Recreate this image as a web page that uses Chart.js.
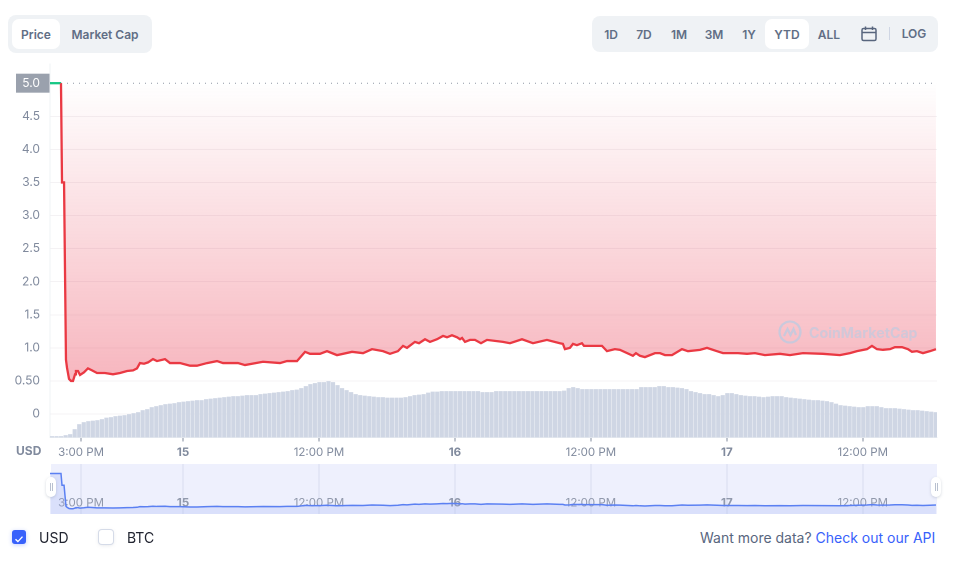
<!DOCTYPE html>
<html>
<head>
<meta charset="utf-8">
<title>Price chart</title>
<script src="https://cdn.jsdelivr.net/npm/chart.js@4/dist/chart.umd.min.js"></script>
<style>
  html, body { margin: 0; padding: 0; background: #fff; width: 970px; height: 566px; overflow: hidden; font-family: Inter, sans-serif; }
  canvas { position: absolute; left: 0; }
  #mainChart { top: 0; }
  #miniChart { top: 464px; }
  .abs { position: absolute; }
  .group { position: absolute; background: #eff2f5; border-radius: 8px; }
  .btn { position: absolute; top: 33.5px; transform: translate(-50%, -50%); font-size: 12px; font-weight: 600; color: #616e85; white-space: nowrap; }
  .active { position: absolute; background: #fff; border-radius: 7px; top: 19px; height: 30px; }
  #miniBg { position: absolute; left: 51px; top: 464px; width: 886px; height: 50px; background: #eef0fd; }
  .handle { position: absolute; top: 477px; width: 10px; height: 20px; background: #fff; border-radius: 5px; box-shadow: 0 1px 3px rgba(88,102,126,.25); }
  .handle:after { content: ""; position: absolute; left: 3.5px; top: 6px; width: 1px; height: 8px; border-left: 1px solid #b8c0cf; border-right: 1px solid #b8c0cf; }
  .check { position: absolute; top: 530px; width: 14px; height: 14px; border-radius: 3px; box-shadow: 0 1px 4px rgba(56,97,251,.3); }
  .lbl { position: absolute; top: 536.5px; transform: translateY(-50%); font-size: 14px; color: #222531; }
  #mark { position: absolute; left: 809px; top: 324px; font-size: 14.2px; font-weight: 700; color: rgba(186,203,226,.62); white-space: nowrap; }
</style>
</head>
<body>
<div class="group" style="left:8px;top:15px;width:144px;height:38px"></div>
<div class="active" style="left:12px;width:48px"></div>
<div class="btn" style="left:36px">Price</div>
<div class="btn" style="left:105px">Market Cap</div>

<div class="group" style="left:592px;top:16px;width:346px;height:36px"></div>
<div class="active" style="left:765px;width:44px"></div>
<div class="btn" style="left:611px">1D</div>
<div class="btn" style="left:644px">7D</div>
<div class="btn" style="left:679px">1M</div>
<div class="btn" style="left:714px">3M</div>
<div class="btn" style="left:749px">1Y</div>
<div class="btn" style="left:787px">YTD</div>
<div class="btn" style="left:829px">ALL</div>
<svg class="abs" style="left:861px;top:26px" width="16" height="16" viewBox="0 0 16 16" fill="none" stroke="#58667e" stroke-width="1.5">
  <rect x="1" y="2.5" width="14" height="12" rx="1.5"/><path d="M1 6.5h14M4.5 .5v3.5M11.5 .5v3.5"/>
</svg>
<div class="abs" style="left:889px;top:27px;width:1px;height:13px;background:#cfd6e4"></div>
<div class="btn" style="left:914px;top:33px">LOG</div>

<div id="miniBg"></div>
<canvas id="mainChart" width="970" height="466"></canvas>
<canvas id="miniChart" width="970" height="50"></canvas>

<svg class="abs" style="left:778px;top:320px" width="24" height="24" viewBox="0 0 24 24" fill="none" stroke="rgba(186,203,226,.75)" stroke-width="2.2">
  <circle cx="12" cy="12" r="10.5"/><path d="M6 16l3.5-7 3 6 3-6 2.5 6"/>
</svg>
<div id="mark">CoinMarketCap</div>

<div class="abs" style="left:16px;top:443px;font-size:12px;font-weight:700;color:#808a9d">USD</div>
<div class="handle" style="left:46px"></div>
<div class="handle" style="left:931px"></div>

<div class="check" style="left:12px;background:#3861fb">
  <svg width="14" height="14" viewBox="0 0 14 14" fill="none" stroke="#fff" stroke-width="1.4"><path d="M3.5 7.2l2.4 2.4 4.6-5"/></svg>
</div>
<div class="lbl" style="left:39px">USD</div>
<div class="check" style="left:99px;background:#fff;box-shadow:0 0 0 1px #d5dbe8,0 1px 4px rgba(88,102,126,.2)"></div>
<div class="lbl" style="left:127px">BTC</div>
<div class="lbl" style="left:700px;color:#58667e">Want more data? <span style="color:#3861fb">Check out our API</span></div>

<script>
// hours counted from midnight on the 14th
const xMin = 12.26;
const xMax = 90.55;

const priceHours = [12.26,13.14,13.23,13.32,13.50,13.67,13.76,13.94,14.11,14.29,14.47,14.55,14.73,14.91,15.26,15.61,15.97,16.41,17.11,17.82,18.44,19.06,19.59,19.94,20.2,20.56,20.91,21.35,21.70,22.41,22.85,23.29,23.73,24.62,25.23,26.12,27.0,27.53,28.85,29.47,31.06,32.56,33.18,34.06,34.77,35.21,36.09,36.71,37.59,38.92,39.89,40.68,41.65,42.27,42.97,43.42,43.77,44.47,44.83,45.36,45.8,46.42,46.95,47.30,47.74,48.19,48.45,48.63,48.89,49.33,49.77,50.30,50.83,52.24,52.86,53.92,54.89,56.12,57.27,57.53,57.71,58.15,58.42,58.77,59.21,59.39,60.98,61.42,62.12,62.57,63.71,63.98,64.33,64.77,65.66,66.1,66.54,67.16,68.04,68.57,69.63,70.25,71.13,71.66,72.98,73.78,74.48,75.36,76.69,77.57,78.72,80.48,81.98,82.87,83.49,84.37,84.81,85.25,85.78,86.4,86.84,87.46,87.99,88.34,88.78,89.31,89.93,90.46];
const priceValues = [5.0,5.0,5.0,3.5,3.5,.82,.70,.53,.50,.50,.60,.65,.65,.59,.63,.69,.66,.62,.62,.60,.62,.65,.66,.69,.77,.76,.78,.83,.80,.83,.77,.77,.77,.73,.73,.77,.80,.77,.77,.74,.79,.77,.80,.80,.94,.91,.91,.95,.89,.94,.92,.98,.95,.91,.95,1.03,1.00,1.09,1.07,1.13,1.09,1.13,1.18,1.16,1.19,1.16,1.13,1.15,1.09,1.12,1.12,1.07,1.12,1.09,1.07,1.13,1.07,1.12,1.07,1.06,.98,1.00,1.06,1.04,1.07,1.03,1.03,.95,.98,.97,.88,.92,.88,.86,.92,.92,.89,.89,.98,.95,.97,1.0,.95,.92,.92,.91,.92,.89,.91,.89,.92,.91,.89,.92,.95,.98,1.03,.98,.97,.98,1.01,1.01,.98,.94,.95,.92,.95,.98];

// volume bars, one every 24 minutes
const volumeStart = 12.44;
const volumeStep = 0.4;
const volumeValues = [1,1,1,2,3,8,13,15,16,16.5,17,18,19.5,20,21,21.5,22,23,24,25,27,28,30,31,32,33,33.5,34,35,35.5,36,36.5,37,37,38,38.5,39,39.5,40,40.5,41,41,41.5,42,42,42,43,43.5,44,44.5,45,45.5,46,47,47.5,49,51,53,54,55,55,56,55,52,49,47,45,43,42,41.5,41,40.5,40,40,39.5,39.5,39.5,39.5,40,41,42,42.5,43,44.5,45.5,45.5,46,46,46,46,46,46,46,46,46,45,45,45,46,46,46,46,46,46,46,46,46,46,46,46,46,46,46,46.5,49,50,49,48,48,48,48,48,48,48,48,48,48,48,48,48,50,50,50,50,51,51,50,50,49.5,49,48,46,45,44,43,43,42,41,42,44,44,43,42,41.5,41,41,40.5,40,40.5,41,41,41,40,39.5,39,38.5,38,37.5,37,37,36.5,36,35,33.5,32,31.5,31,30.5,30,30,31,31,31,30,29,29,29,28.5,28,27.5,27,27,26.5,26,25.5,25];
const volumeMax = 373.5;

const yTicks = [0,0.5,1,1.5,2,2.5,3,3.5,4,4.5,5];
const yTickLabels = ['0','0.50','1.0','1.5','2.0','2.5','3.0','3.5','4.0','4.5','5.0'];
const xTicks = [15,24,36,48,60,72,84];
const xTickLabels = ['3:00 PM','15','12:00 PM','16','12:00 PM','17','12:00 PM'];
const boldTicks = [24,48,72];

const pricePoints = priceHours.map((h, i) => ({ x: h, y: priceValues[i] }));
const volumePoints = volumeValues.map((v, i) => ({ x: volumeStart + i * volumeStep, y: v }));

function fixedTicks(values) {
    return function(scale) { scale.ticks = values.map(v => ({ value: v })); };
}
function xLabel(v) { return xTickLabels[xTicks.indexOf(v)]; }
function xFont(c, size) {
    const bold = c.tick && boldTicks.includes(c.tick.value);
    return { family: 'Inter', size: size, weight: bold ? 700 : 400 };
}

function priceFill(c) {
    const { ctx, chartArea, scales } = c.chart;
    if (!chartArea) return 'rgba(234,57,67,0.2)';
    const g = ctx.createLinearGradient(0, scales.y.getPixelForValue(5), 0, scales.y.getPixelForValue(0.5));
    g.addColorStop(0, 'rgba(234,57,80,0)');
    g.addColorStop(1, 'rgba(234,57,80,0.37)');
    return g;
}

// grey box behind the top tick label
const topLabelBox = {
    id: 'topLabelBox',
    beforeDraw(chart) {
        const y = chart.scales.y.getPixelForValue(5);
        chart.ctx.save();
        chart.ctx.fillStyle = '#9aa1ad';
        chart.ctx.fillRect(16, y - 9.5, 34, 19);
        chart.ctx.restore();
    }
};

new Chart(document.getElementById('mainChart'), {
    data: {
        datasets: [
            {
                type: 'line', data: pricePoints, yAxisID: 'y', order: 1,
                borderColor: '#ea3943', borderWidth: 2.3, pointRadius: 0, tension: 0,
                fill: { value: 5 }, backgroundColor: priceFill,
                segment: { borderColor: c => (c.p0.parsed.y >= 5 && c.p1.parsed.y >= 5 ? '#16c784' : '#ea3943') }
            },
            {
                type: 'line', data: [{ x: priceHours[2], y: 5 }, { x: xMax, y: 5 }], yAxisID: 'y', order: 2,
                borderColor: '#8f96a3', borderWidth: 1, borderDash: [1, 5], pointRadius: 0, fill: false
            },
            {
                type: 'bar', data: volumePoints, yAxisID: 'y1', order: 3,
                backgroundColor: '#cfd6e4', barThickness: 3.5, borderWidth: 0
            }
        ]
    },
    options: {
        responsive: false, animation: false, devicePixelRatio: 2,
        layout: { padding: { top: 64, right: 33, left: 0, bottom: 0 } },
        plugins: { legend: { display: false }, tooltip: { enabled: false } },
        scales: {
            x: {
                type: 'linear', min: xMin, max: xMax, offset: false,
                afterBuildTicks: fixedTicks(xTicks),
                afterFit: s => { s.height = 28.5; },
                border: { color: '#eff2f5' },
                grid: { offset: false, drawOnChartArea: false, drawTicks: true, tickLength: 4, color: '#808a9d' },
                ticks: { autoSkip: false, maxRotation: 0, padding: 4, color: '#808a9d', callback: xLabel, font: c => xFont(c, 11.5) }
            },
            y: {
                min: -0.355, max: 5.29,
                afterBuildTicks: fixedTicks(yTicks),
                afterFit: s => { s.width = 50; },
                border: { color: '#eff2f5' },
                grid: { drawTicks: false, color: c => (c.tick && c.tick.value === 5 ? 'transparent' : 'rgba(214,210,216,0.28)') },
                ticks: {
                    padding: 10, autoSkip: false,
                    color: c => (c.tick && c.tick.value === 5 ? '#ffffff' : '#808a9d'),
                    font: { family: 'Inter', size: 12 },
                    callback: v => yTickLabels[yTicks.indexOf(v)]
                }
            },
            y1: { display: false, min: 0, max: volumeMax }
        }
    },
    plugins: [topLabelBox]
});

new Chart(document.getElementById('miniChart'), {
    type: 'line',
    data: {
        datasets: [{
            data: pricePoints, borderColor: '#5b80f2', borderWidth: 1.5, pointRadius: 0, tension: 0,
            fill: 'start', backgroundColor: 'rgba(150,170,245,0.22)'
        }]
    },
    options: {
        responsive: false, animation: false, devicePixelRatio: 2,
        layout: { padding: { left: 50, right: 33, top: 0, bottom: 0 } },
        plugins: { legend: { display: false }, tooltip: { enabled: false } },
        scales: {
            x: {
                type: 'linear', min: xMin, max: xMax,
                afterBuildTicks: fixedTicks(xTicks),
                afterFit: s => { s.height = 0; },
                border: { display: false },
                grid: { drawTicks: false, color: '#d9ddee' },
                ticks: { mirror: true, autoSkip: false, maxRotation: 0, padding: 4, color: 'rgba(128,138,157,0.85)', callback: xLabel, font: c => xFont(c, 11.5) }
            },
            y: { display: false, min: -0.166, max: 6.22 }
        }
    }
});
</script>
</body>
</html>
